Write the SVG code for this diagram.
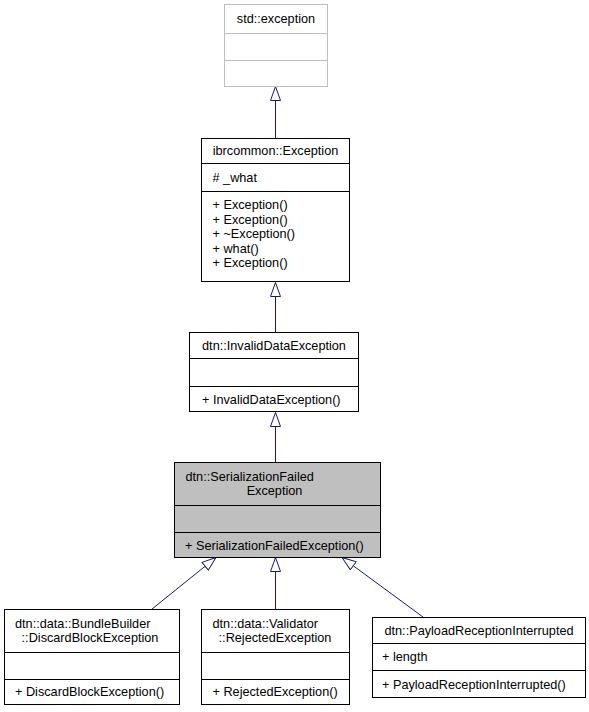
<svg xmlns="http://www.w3.org/2000/svg" width="589" height="712" viewBox="0 0 589 712">
<style>
text{font-family:"Liberation Sans",Arial,sans-serif;font-size:12.7px;fill:#000}
.c{text-anchor:middle}
.box{fill:#fff;stroke:#000;stroke-width:1}
.sep{stroke:#000;stroke-width:1}
.grey .box{stroke:#bfbfbf}
.grey .sep{stroke:#bfbfbf}
.hl .box{fill:#bfbfbf}
.edge{fill:none;stroke:#191970;stroke-width:1;marker-end:url(#tri)}
</style>
<defs>
<marker id="tri" markerUnits="userSpaceOnUse" markerWidth="16" markerHeight="12" refX="14.5" refY="5.5" orient="auto" viewBox="0 0 16 11">
<path d="M0.5,0.5 L14.5,5.5 L0.5,10.5 Z" fill="#fff" stroke="#191970" stroke-width="1"/>
</marker>
</defs>
<rect width="589" height="712" fill="#fff"/>
<g id="edges">
<path class="edge" d="M275.5,138 L275.5,86.5"/>
<path class="edge" d="M275.5,332 L275.5,282.5"/>
<path class="edge" d="M275.5,462 L275.5,412.5"/>
<path class="edge" d="M152,609 L216,557.5"/>
<path class="edge" d="M275.5,609 L275.5,557.5"/>
<path class="edge" d="M423,617 L342,557.5"/>
</g>
<g id="std_exception" class="grey">
<rect class="box" x="224.5" y="4.5" width="103" height="82"/>
<line class="sep" x1="224.5" y1="33.5" x2="327.5" y2="33.5"/>
<line class="sep" x1="224.5" y1="60.5" x2="327.5" y2="60.5"/>
<text class="c" x="276" y="23">std::exception</text>
</g>
<g id="ibrcommon_Exception">
<rect class="box" x="201.5" y="138.5" width="148" height="143"/>
<line class="sep" x1="201.5" y1="163.5" x2="349.5" y2="163.5"/>
<line class="sep" x1="201.5" y1="191.5" x2="349.5" y2="191.5"/>
<text class="c" x="275.5" y="155">ibrcommon::Exception</text>
<text x="212.5" y="182">#  _what</text>
<text x="212.5" y="209">+ Exception()</text>
<text x="212.5" y="223.6">+ Exception()</text>
<text x="212.5" y="238.2">+ ~Exception()</text>
<text x="212.5" y="252.8">+ what()</text>
<text x="212.5" y="267.4">+ Exception()</text>
</g>
<g id="dtn_InvalidDataException">
<rect class="box" x="189.5" y="332.5" width="169" height="79"/>
<line class="sep" x1="189.5" y1="358.5" x2="358.5" y2="358.5"/>
<line class="sep" x1="189.5" y1="386.5" x2="358.5" y2="386.5"/>
<text class="c" x="274" y="350">dtn::InvalidDataException</text>
<text x="202" y="404">+ InvalidDataException()</text>
</g>
<g id="dtn_SerializationFailedException" class="hl">
<rect class="box" x="174.5" y="462.5" width="206" height="95"/>
<line class="sep" x1="174.5" y1="505.5" x2="380.5" y2="505.5"/>
<line class="sep" x1="174.5" y1="532.5" x2="380.5" y2="532.5"/>
<text x="185.5" y="481">dtn::SerializationFailed</text>
<text class="c" x="274.5" y="495">Exception</text>
<text x="185" y="549.5">+ SerializationFailedException()</text>
</g>
<g id="DiscardBlockException">
<rect class="box" x="4.5" y="609.5" width="175" height="95"/>
<line class="sep" x1="4.5" y1="652.5" x2="179.5" y2="652.5"/>
<line class="sep" x1="4.5" y1="679.5" x2="179.5" y2="679.5"/>
<text x="15" y="628">dtn::data::BundleBuilder</text>
<text class="c" x="90" y="642">::DiscardBlockException</text>
<text x="15" y="696">+ DiscardBlockException()</text>
</g>
<g id="RejectedException">
<rect class="box" x="201.5" y="609.5" width="148" height="95"/>
<line class="sep" x1="201.5" y1="652.5" x2="349.5" y2="652.5"/>
<line class="sep" x1="201.5" y1="679.5" x2="349.5" y2="679.5"/>
<text x="212.5" y="628">dtn::data::Validator</text>
<text class="c" x="275" y="642">::RejectedException</text>
<text x="212.5" y="696">+ RejectedException()</text>
</g>
<g id="PayloadReceptionInterrupted">
<rect class="box" x="372.5" y="617.5" width="213" height="80"/>
<line class="sep" x1="372.5" y1="643.5" x2="585.5" y2="643.5"/>
<line class="sep" x1="372.5" y1="670.5" x2="585.5" y2="670.5"/>
<text class="c" x="479" y="635">dtn::PayloadReceptionInterrupted</text>
<text x="382" y="661">+ length</text>
<text x="382" y="688.5">+ PayloadReceptionInterrupted()</text>
</g>
</svg>
